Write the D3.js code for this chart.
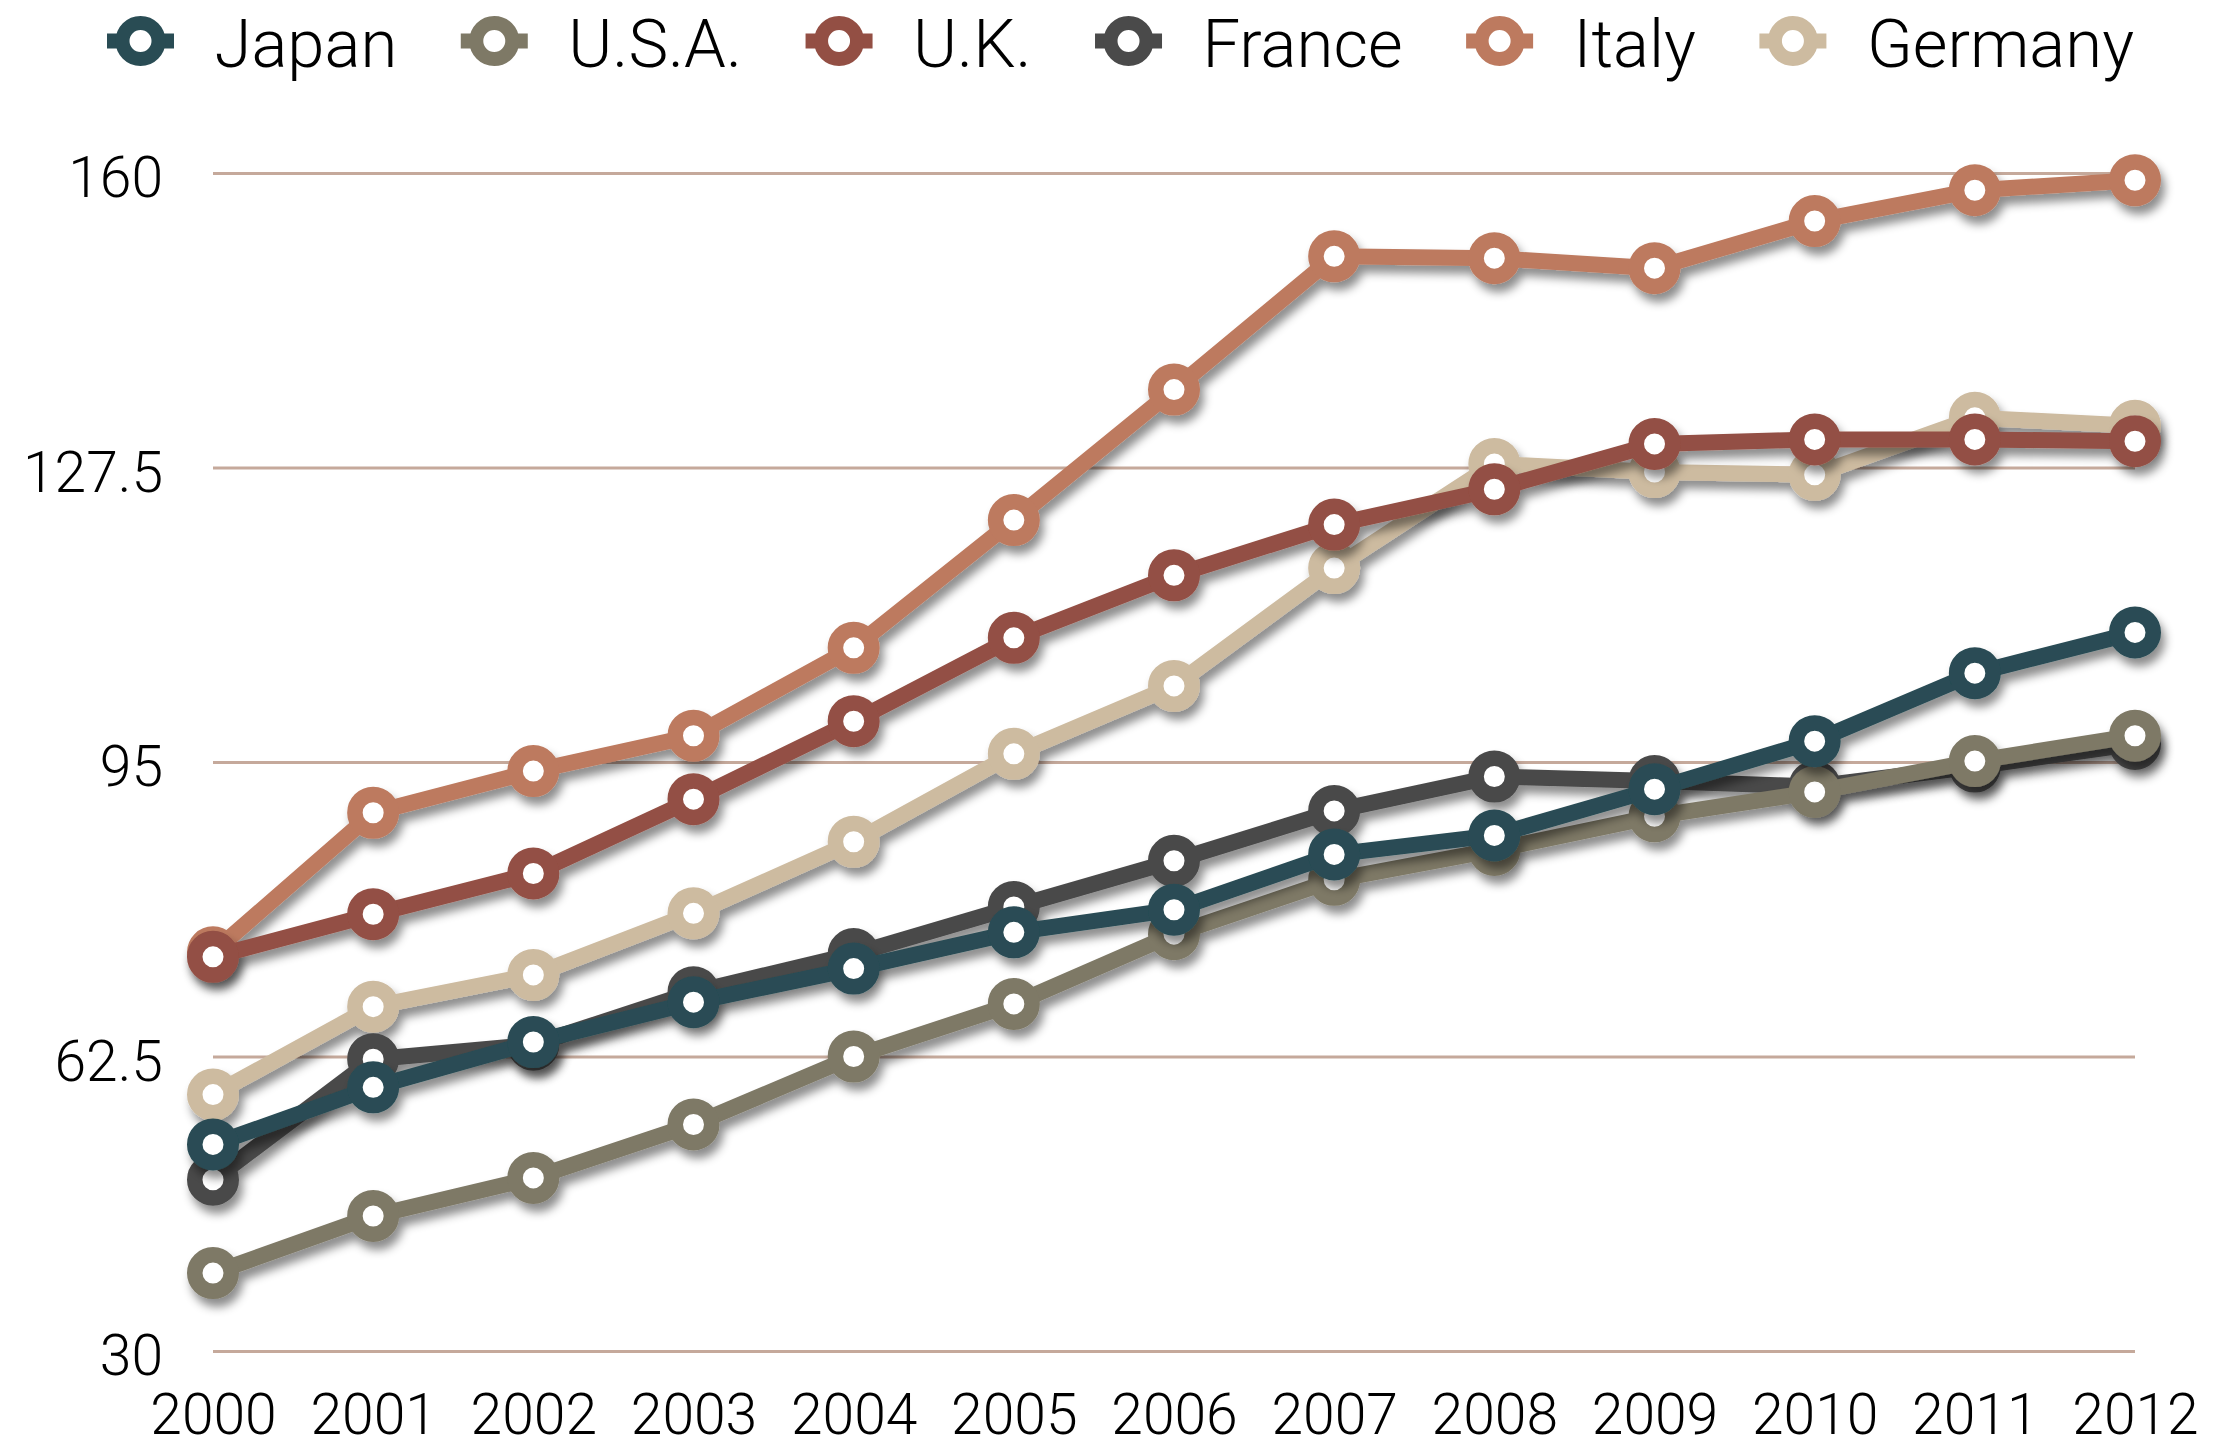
<!DOCTYPE html>
<html>
<head>
<meta charset="utf-8">
<script src="https://cdn.jsdelivr.net/npm/d3@7"></script>
<style>
body{
margin:0;
background:white;
font-family:Roboto,"Liberation Sans",sans-serif;
font-weight:300;
}
.axis text{
font-family:Roboto,"Liberation Sans",sans-serif;
font-weight:300;
fill:black;
}
</style>
</head>
<body>
<div id="chart"></div>
<script>
// data
var years = [2000,2001,2002,2003,2004,2005,2006,2007,2008,2009,2010,2011,2012]
var yTicks = [30,62.5,95,127.5,160]

var japan   = [52.8,59.1,64.1,68.5,72.2,76.2,78.7,84.8,86.9,92.0,97.3,104.8,109.3]
var usa     = [38.6,44.9,49.1,55.0,62.5,68.3,76.0,82.0,85.3,89.0,91.7,95.1,97.9]
var uk      = [73.5,78.2,82.7,90.9,99.5,108.7,115.6,121.2,125.1,130.1,130.6,130.6,130.4]
var france  = [48.9,62.2,63.8,69.6,73.8,79.0,84.1,89.6,93.4,92.9,92.3,94.5,97.0]
var italy   = [74.0,89.4,94.0,97.9,107.6,121.7,136.1,150.8,150.6,149.5,154.7,158.1,159.2]
var germany = [58.3,68.0,71.5,78.3,86.2,95.9,103.4,116.4,127.9,127.0,126.7,133.0,132.1]

var names  = ["Japan","U.S.A.","U.K.","France","Italy","Germany"]
var values = [japan,usa,uk,france,italy,germany]
var colors = ["#294c54","#7e7966","#934f44","#4a4a4a","#bd7a5f","#cdbba0"]

var W = 2223, H = 1449
var plotL = 213, plotR = 2135, plotT = 173, plotB = 1351
var lineW = 16, markR = 18.25, markW = 15.5

var svg = d3.select("#chart").append("svg")
.attr("width",W)
.attr("height",H)

var defs = svg.append("defs")
var f = defs.append("filter").attr("id","shadow")
.attr("x","-20%").attr("y","-20%").attr("width","140%").attr("height","140%")
f.append("feDropShadow")
.attr("dx",4).attr("dy",8)
.attr("stdDeviation",5)
.attr("flood-color","#000")
.attr("flood-opacity",0.45)

var x = d3.scalePoint().domain(years).range([plotL,plotR])
var y = d3.scaleLinear().domain([30,160]).range([plotB,plotT])

// grid + y labels
var yAxis = svg.append("g")
.attr("class","axis")
.attr("transform","translate("+plotL+",0)")
.call(d3.axisLeft(y).tickValues(yTicks).tickSize(-(plotR-plotL)).tickPadding(50).tickFormat(function(d){return d}))
yAxis.select(".domain").remove()
yAxis.selectAll("line").attr("stroke","#c5a99b").attr("stroke-width",3)
yAxis.selectAll("text").attr("font-size",57).attr("dy","0.42em")

var xAxis = svg.append("g")
.attr("class","axis")
.attr("transform","translate(0,"+plotB+")")
.call(d3.axisBottom(x).tickSize(0).tickPadding(43).tickFormat(function(d){return d}))
xAxis.select(".domain").remove()
xAxis.selectAll("text").attr("font-size",57)

var line = d3.line()
.x(function(d,i){return x(years[i])})
.y(function(d){return y(d)})

// draw reverse legend order so Japan ends up on top
var order = d3.range(names.length).reverse()
order.forEach(function(k){
var g = svg.append("g").attr("filter","url(#shadow)")
g.append("path")
.datum(values[k])
.attr("d",line)
.attr("fill","none")
.attr("stroke",colors[k])
.attr("stroke-width",lineW)
.attr("stroke-linejoin","round")
g.selectAll("circle")
.data(values[k])
.enter()
.append("circle")
.attr("cx",function(d,i){return x(years[i])})
.attr("cy",function(d){return y(d)})
.attr("r",markR)
.attr("fill","white")
.attr("stroke",colors[k])
.attr("stroke-width",markW)
})

// legend
var leg = svg.append("g")
var legY = 41, stub = 33.5, textOff = 74
var items = names.map(function(n,k){
var it = leg.append("g")
it.append("line")
.attr("x1",-stub).attr("x2",stub)
.attr("y1",legY).attr("y2",legY)
.attr("stroke",colors[k]).attr("stroke-width",15)
it.append("circle")
.attr("cx",0).attr("cy",legY)
.attr("r",18)
.attr("fill","white")
.attr("stroke",colors[k])
.attr("stroke-width",14)
var t = it.append("text")
.attr("x",textOff)
.attr("y",67)
.attr("font-size",67)
.attr("fill","black")
.text(n)
return {g:it,w:textOff+t.node().getComputedTextLength()+stub}
})
var legStart = 107, legEnd = 2134
var total = d3.sum(items,function(d){return d.w})
var gap = (legEnd-legStart-total)/(items.length-1)
var cx = legStart
items.forEach(function(d){
d.g.attr("transform","translate("+(cx+stub)+",0)")
cx += d.w+gap
})
</script>
</body>
</html>
